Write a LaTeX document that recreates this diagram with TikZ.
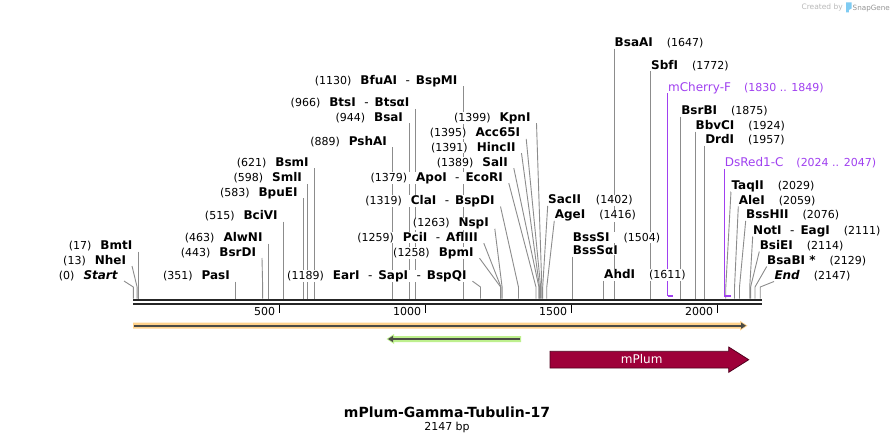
\documentclass[tikz,border=0pt]{standalone}
\usepackage{fontspec}
\setmainfont{DejaVu Sans}
\usepackage{xcolor}
\usepackage{tikz}
\usetikzlibrary{calc,backgrounds,arrows.meta}
\definecolor{cutgray}{HTML}{8C8C8C}
\definecolor{primer}{HTML}{A040F0}
\definecolor{barblack}{HTML}{262626}
\definecolor{featorange}{HTML}{FFD28C}
\definecolor{featgreen}{HTML}{BEF08E}
\definecolor{featline}{HTML}{4B4B46}
\definecolor{plum}{HTML}{9E0039}
\definecolor{plumedge}{HTML}{50001E}
\definecolor{logogray}{HTML}{B9B9B9}
\definecolor{logoblue}{HTML}{7FCBF2}
\newcommand{\bp}[1]{133.3+0.292*#1}
\newcommand{\enz}[1]{\textbf{#1}}
\newcommand{\pos}[1]{{\fontsize{11}{13}\selectfont(#1)}}
\newcommand{\dsh}{\hspace{8.5pt}-\hspace{6pt}}
\newcommand{\gapl}{\hspace{9pt}}
\tikzset{
  cut/.style={draw=cutgray, line width=0.9pt},
  prim/.style={draw=primer, line width=1pt},
  primbar/.style={draw=primer, line width=2pt},
  lab/.style={font=\fontsize{12}{14}\selectfont, fill=white, inner sep=0.3pt},
  labl/.style={lab, anchor=base east},
  labr/.style={lab, anchor=base west},
  tick/.style={draw=black, line width=1.4pt},
  ticklab/.style={font=\fontsize{11}{13}\selectfont, anchor=base east, inner sep=0pt},
  feat/.style={draw=featline, line width=2pt, -{Triangle[length=5pt,width=6pt]}},
}

\begin{document}
\begin{tikzpicture}[x=1pt,y=-1pt]
  \useasboundingbox (0,0) rectangle (895,444);
  \coordinate (bartop) at (0,298.5);

  % sequence bar and ruler
  \draw[draw=barblack, line width=2.2pt] (133,300) -- (761.5,300);
  \draw[draw=barblack, line width=1.8pt] (133,303.8) -- (761.5,303.8);
  \draw[tick] ({\bp{500}},304.5) -- ({\bp{500}},313);
  \draw[tick] ({\bp{1000}},304.5) -- ({\bp{1000}},313);
  \draw[tick] ({\bp{1500}},304.5) -- ({\bp{1500}},313);
  \draw[tick] ({\bp{2000}},304.5) -- ({\bp{2000}},313);
  \node[ticklab] (t500) at ({\bp{500}-4},315.3) {500};
  \node[ticklab] (t1000) at ({\bp{1000}-4},315.3) {1000};
  \node[ticklab] (t1500) at ({\bp{1500}-4},315.3) {1500};
  \node[ticklab] (t2000) at ({\bp{2000}-4},315.3) {2000};

  % sites, left of the cut
  \node[labl] (start) at (118.5,279) {\pos{0}\gapl\enz{\textit{Start}}};
  \node[labl] (nhei) at (126.5,264) {\pos{13}\gapl\enz{NheI}};
  \node[labl] (bmti) at ({\bp{17}-5.5},249.5) {\pos{17}\gapl\enz{BmtI}};
  \node[labl] (pasi) at ({\bp{351}-5.5},279.5) {\pos{351}\gapl\enz{PasI}};
  \node[labl] (bsrdi) at (256.5,256) {\pos{443}\gapl\enz{BsrDI}};
  \node[labl] (alwni) at ({\bp{463}-5.5},241.5) {\pos{463}\gapl\enz{AlwNI}};
  \node[labl] (bcivi) at ({\bp{515}-5.5},219.5) {\pos{515}\gapl\enz{BciVI}};
  \node[labl] (bpuei) at ({\bp{583}-5.5},196.2) {\pos{583}\gapl\enz{BpuEI}};
  \node[labl] (smli) at ({\bp{598}-5.5},181.8) {\pos{598}\gapl\enz{SmlI}};
  \node[labl] (bsmi) at ({\bp{621}-5.5},166.2) {\pos{621}\gapl\enz{BsmI}};
  \node[labl] (pshai) at ({\bp{889}-5.5},145) {\pos{889}\gapl\enz{PshAI}};
  \node[labl] (bsai) at ({\bp{944}-5.5},121.2) {\pos{944}\gapl\enz{BsaI}};
  \node[labl] (btsi) at ({\bp{966}-5.5},106.8) {\pos{966}\gapl\enz{BtsI}\dsh\enz{BtsαI}};
  \node[labl] (bfuai) at ({\bp{1130}-5.5},84.5) {\pos{1130}\gapl\enz{BfuAI}\dsh\enz{BspMI}};
  \node[labl] (eari) at (467,279.2) {\pos{1189}\gapl\enz{EarI}\dsh\enz{SapI}\dsh\enz{BspQI}};
  \node[labl] (clai) at (495,204.5) {\pos{1319}\gapl\enz{ClaI}\dsh\enz{BspDI}};
  \node[labl] (nspi) at (489.3,226.8) {\pos{1263}\gapl\enz{NspI}};
  \node[labl] (pcii) at (478.3,241.2) {\pos{1259}\gapl\enz{PciI}\dsh\enz{AflIII}};
  \node[labl] (bpmi) at (474,256.2) {\pos{1258}\gapl\enz{BpmI}};
  \node[labl] (apoi) at (503.3,181.2) {\pos{1379}\gapl\enz{ApoI}\dsh\enz{EcoRI}};
  \node[labl] (sali) at (508.3,166.2) {\pos{1389}\gapl\enz{SalI}};
  \node[labl] (hincii) at (516,151.2) {\pos{1391}\gapl\enz{HincII}};
  \node[labl] (acc65i) at (520.7,136.8) {\pos{1395}\gapl\enz{Acc65I}};
  \node[labl] (kpni) at (531,121.2) {\pos{1399}\gapl\enz{KpnI}};

  % sites, right of the cut
  \node[labr] (sacii) at (547.7,203.8) {\enz{SacII}\hspace{15pt}\pos{1402}};
  \node[labr] (agei) at (554.3,218.8) {\enz{AgeI}\hspace{14pt}\pos{1416}};
  \node[labr] (bsssi) at ({\bp{1504}},241.2) {\enz{BssSI}\hspace{14pt}\pos{1504}};
  \node[labr] (bsssai) at ({\bp{1504}},254.5) {\enz{BssSαI}};
  \node[labr] (ahdi) at ({\bp{1611}},278.8) {\enz{AhdI}\hspace{14pt}\pos{1611}};
  \node[labr] (bsaai) at ({\bp{1647}},46.7) {\enz{BsaAI}\hspace{14pt}\pos{1647}};
  \node[labr] (sbfi) at ({\bp{1772}},69.3) {\enz{SbfI}\hspace{14pt}\pos{1772}};
  \node[labr, text=primer] (mcherry) at ({\bp{1830}},91.3) {mCherry-F\hspace{13pt}\pos{1830 .. 1849}};
  \node[labr] (bsrbi) at ({\bp{1875}},114.5) {\enz{BsrBI}\hspace{14pt}\pos{1875}};
  \node[labr] (bbvci) at ({\bp{1924}},129.5) {\enz{BbvCI}\hspace{14pt}\pos{1924}};
  \node[labr] (drdi) at ({\bp{1957}},143.8) {\enz{DrdI}\hspace{14pt}\pos{1957}};
  \node[labr, text=primer] (dsred) at ({\bp{2024}},166.8) {DsRed1-C\hspace{13pt}\pos{2024 .. 2047}};
  \node[labr] (taqii) at (731,189.2) {\enz{TaqII}\hspace{14pt}\pos{2029}};
  \node[labr] (alei) at (738.3,204.5) {\enz{AleI}\hspace{14pt}\pos{2059}};
  \node[labr] (bsshii) at (745.7,218.8) {\enz{BssHII}\hspace{14pt}\pos{2076}};
  \node[labr] (noti) at (752.7,234.5) {\enz{NotI}\dsh\enz{EagI}\hspace{14pt}\pos{2111}};
  \node[labr] (bsiei) at (759.3,249.5) {\enz{BsiEI}\hspace{14pt}\pos{2114}};
  \node[labr] (bsabi) at (766.7,264.5) {\enz{BsaBI *}\hspace{14pt}\pos{2129}};
  \node[labr] (endlab) at (774,279.5) {\enz{\textit{End}}\hspace{14pt}\pos{2147}};

  % knees of the cut lines
  \coordinate (s0) at ({\bp{0}},287);
  \coordinate (s13) at ({\bp{13}},287);
  \coordinate (s17) at ({\bp{17}},287);
  \coordinate (s351) at ({\bp{351}},287);
  \coordinate (s443) at ({\bp{443}},287);
  \coordinate (s463) at ({\bp{463}},287);
  \coordinate (s515) at ({\bp{515}},287);
  \coordinate (s583) at ({\bp{583}},287);
  \coordinate (s598) at ({\bp{598}},287);
  \coordinate (s621) at ({\bp{621}},287);
  \coordinate (s889) at ({\bp{889}},287);
  \coordinate (s944) at ({\bp{944}},287);
  \coordinate (s966) at ({\bp{966}},287);
  \coordinate (s1130) at ({\bp{1130}},287);
  \coordinate (s1189) at ({\bp{1189}},287);
  \coordinate (s1258) at ({\bp{1258}},287);
  \coordinate (s1259) at ({\bp{1259}},287);
  \coordinate (s1263) at ({\bp{1263}},287);
  \coordinate (s1319) at ({\bp{1319}},287);
  \coordinate (s1379) at ({\bp{1379}},287);
  \coordinate (s1389) at ({\bp{1389}},287);
  \coordinate (s1391) at ({\bp{1391}},287);
  \coordinate (s1395) at ({\bp{1395}},287);
  \coordinate (s1399) at ({\bp{1399}},287);
  \coordinate (s1402) at ({\bp{1402}},287);
  \coordinate (s1416) at ({\bp{1416}},287);
  \coordinate (s1504) at ({\bp{1504}},287);
  \coordinate (s1611) at ({\bp{1611}},287);
  \coordinate (s1647) at ({\bp{1647}},287);
  \coordinate (s1772) at ({\bp{1772}},287);
  \coordinate (s1875) at ({\bp{1875}},287);
  \coordinate (s1924) at ({\bp{1924}},287);
  \coordinate (s1957) at ({\bp{1957}},287);
  \coordinate (s2029) at ({\bp{2029}},287);
  \coordinate (s2059) at ({\bp{2059}},287);
  \coordinate (s2076) at ({\bp{2076}},287);
  \coordinate (s2111) at ({\bp{2111}},287);
  \coordinate (s2114) at ({\bp{2114}},287);
  \coordinate (s2129) at ({\bp{2129}},287);
  \coordinate (s2147) at ({\bp{2147}},287);
  \coordinate (p1830) at ({\bp{1830}},295.5);
  \coordinate (p1849) at ({\bp{1849}},295.5);
  \coordinate (p2024) at ({\bp{2024}},295.5);
  \coordinate (p2047) at ({\bp{2047}},295.5);

  \begin{scope}[on background layer]
    \fill[white] (0,0) rectangle (895,444);
    \draw[cut] ([xshift=5.5pt,yshift=-2pt]start.base east) -- (s0) -- (s0 |- bartop);
    \draw[cut] ([xshift=5.5pt,yshift=-2pt]nhei.base east) -- (s13) -- (s13 |- bartop);
    \draw[cut] ([xshift=5.5pt,yshift=-2pt]bmti.base east) -- (s17) -- (s17 |- bartop);
    \draw[cut] ([xshift=5.5pt,yshift=-2pt]pasi.base east) -- (s351) -- (s351 |- bartop);
    \draw[cut] ([xshift=5.5pt,yshift=-2pt]bsrdi.base east) -- (s443) -- (s443 |- bartop);
    \draw[cut] ([xshift=5.5pt,yshift=-2pt]alwni.base east) -- (s463) -- (s463 |- bartop);
    \draw[cut] ([xshift=5.5pt,yshift=-2pt]bcivi.base east) -- (s515) -- (s515 |- bartop);
    \draw[cut] ([xshift=5.5pt,yshift=-2pt]bpuei.base east) -- (s583) -- (s583 |- bartop);
    \draw[cut] ([xshift=5.5pt,yshift=-2pt]smli.base east) -- (s598) -- (s598 |- bartop);
    \draw[cut] ([xshift=5.5pt,yshift=-2pt]bsmi.base east) -- (s621) -- (s621 |- bartop);
    \draw[cut] ([xshift=5.5pt,yshift=-2pt]pshai.base east) -- (s889) -- (s889 |- bartop);
    \draw[cut] ([xshift=5.5pt,yshift=-2pt]bsai.base east) -- (s944) -- (s944 |- bartop);
    \draw[cut] ([xshift=5.5pt,yshift=-2pt]btsi.base east) -- (s966) -- (s966 |- bartop);
    \draw[cut] ([xshift=5.5pt,yshift=-2pt]bfuai.base east) -- (s1130) -- (s1130 |- bartop);
    \draw[cut] ([xshift=5.5pt,yshift=-2pt]eari.base east) -- (s1189) -- (s1189 |- bartop);
    \draw[cut] ([xshift=5.5pt,yshift=-2pt]clai.base east) -- (s1319) -- (s1319 |- bartop);
    \draw[cut] ([xshift=5.5pt,yshift=-2pt]nspi.base east) -- (s1263) -- (s1263 |- bartop);
    \draw[cut] ([xshift=5.5pt,yshift=-2pt]pcii.base east) -- (s1259) -- (s1259 |- bartop);
    \draw[cut] ([xshift=5.5pt,yshift=-2pt]bpmi.base east) -- (s1258) -- (s1258 |- bartop);
    \draw[cut] ([xshift=5.5pt,yshift=-2pt]apoi.base east) -- (s1379) -- (s1379 |- bartop);
    \draw[cut] ([xshift=5.5pt,yshift=-2pt]sali.base east) -- (s1389) -- (s1389 |- bartop);
    \draw[cut] ([xshift=5.5pt,yshift=-2pt]hincii.base east) -- (s1391) -- (s1391 |- bartop);
    \draw[cut] ([xshift=5.5pt,yshift=-2pt]acc65i.base east) -- (s1395) -- (s1395 |- bartop);
    \draw[cut] ([xshift=5.5pt,yshift=-2pt]kpni.base east) -- (s1399) -- (s1399 |- bartop);
    \draw[cut] ([yshift=-2pt]sacii.base west) -- (s1402) -- (s1402 |- bartop);
    \draw[cut] ([yshift=-2pt]agei.base west) -- (s1416) -- (s1416 |- bartop);
    \draw[cut] ([yshift=-2pt]bsssai.base west) -- (s1504) -- (s1504 |- bartop);
    \draw[cut] ([yshift=-2pt]ahdi.base west) -- (s1611) -- (s1611 |- bartop);
    \draw[cut] ([yshift=-2pt]bsaai.base west) -- (s1647) -- (s1647 |- bartop);
    \draw[cut] ([yshift=-2pt]sbfi.base west) -- (s1772) -- (s1772 |- bartop);
    \draw[cut] ([yshift=-2pt]bsrbi.base west) -- (s1875) -- (s1875 |- bartop);
    \draw[cut] ([yshift=-2pt]bbvci.base west) -- (s1924) -- (s1924 |- bartop);
    \draw[cut] ([yshift=-2pt]drdi.base west) -- (s1957) -- (s1957 |- bartop);
    \draw[cut] ([yshift=-2pt]taqii.base west) -- (s2029) -- (s2029 |- bartop);
    \draw[cut] ([yshift=-2pt]alei.base west) -- (s2059) -- (s2059 |- bartop);
    \draw[cut] ([yshift=-2pt]bsshii.base west) -- (s2076) -- (s2076 |- bartop);
    \draw[cut] ([yshift=-2pt]noti.base west) -- (s2111) -- (s2111 |- bartop);
    \draw[cut] ([yshift=-2pt]bsiei.base west) -- (s2114) -- (s2114 |- bartop);
    \draw[cut] ([yshift=-2pt]bsabi.base west) -- (s2129) -- (s2129 |- bartop);
    \draw[cut] ([yshift=-2pt]endlab.base west) -- (s2147) -- (s2147 |- bartop);
    % primers
    \draw[prim] ([yshift=-2pt]mcherry.base west) -- (p1830);
    \draw[primbar] (p1830) -- (p1849);
    \draw[prim] ([yshift=-2pt]dsred.base west) -- (p2024);
    \draw[primbar] (p2024) -- (p2047);
  \end{scope}

  % features
  \fill[featorange] (133,322.7) -- (740,322.7) -- (740,320.8) -- (747.5,325.7) -- (740,330.6) -- (740,328.7) -- (133,328.7) -- cycle;
  \draw[feat] (134,325.7) -- (746,325.7);
  \fill[featgreen] (521,336) -- (394,336) -- (394,334) -- (386.5,339) -- (394,344) -- (394,342) -- (521,342) -- cycle;
  \draw[feat] (519.5,339) -- (388,339);
  \draw[draw=plumedge, fill=plum, line width=0.8pt] (550,351.3) -- (728.7,351.3) -- (728.7,347) -- (748.7,359.7) -- (728.7,372.3) -- (728.7,368) -- (550,368) -- cycle;
  \node[font=\fontsize{12}{14}\selectfont, text=white, anchor=base] (mplum) at (641.7,363.5) {mPlum};

  % title
  \node[font=\bfseries\fontsize{14}{16}\selectfont, anchor=base] (title) at (447,417) {mPlum-Gamma-Tubulin-17};
  \node[font=\fontsize{11}{13}\selectfont, anchor=base] (len) at (447,430.5) {2147 bp};

  % logo
  \node[font=\fontsize{7.5}{9}\selectfont, text=logogray, anchor=base east, inner sep=0pt] (made) at (843,10) {Created by};
  \fill[logoblue] (846,2.5) -- (851.5,2.5) -- (851.5,8.5) -- (848.8,10) -- (848.8,12.5) -- (846,12.5) -- cycle;
  \node[font=\fontsize{7.2}{9}\selectfont, text=logogray!80!black, anchor=base west, inner sep=0pt] (snap) at (852.5,10.5) {SnapGene};
\end{tikzpicture}
\end{document}
